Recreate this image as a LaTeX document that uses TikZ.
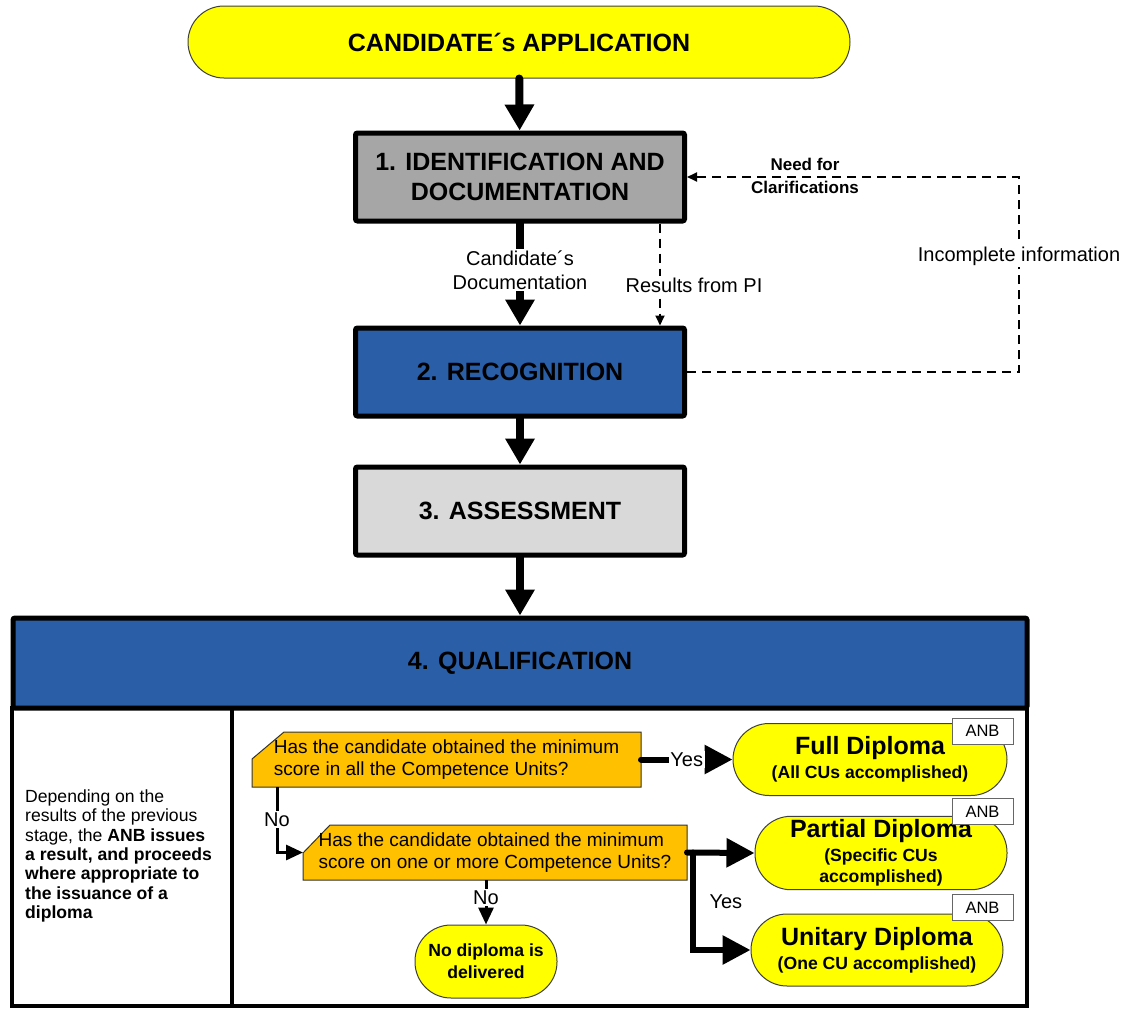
\documentclass[tikz,border=0pt]{standalone}
\usepackage{fontspec}
\setmainfont{Liberation Sans}
\usetikzlibrary{arrows.meta,backgrounds}
\definecolor{stageblue}{HTML}{2A5EA6}
\definecolor{idgray}{HTML}{A6A6A6}
\definecolor{assessgray}{HTML}{D9D9D9}
\definecolor{qorange}{HTML}{FFC000}
\definecolor{pillyellow}{HTML}{FFFF00}

\begin{document}
\begin{tikzpicture}[x=1pt,y=-1pt,
  stage/.style={draw=black, line width=5pt, rounded corners=2pt, minimum width=329pt, minimum height=88pt, align=center, font=\fontsize{25}{30}\selectfont\bfseries},
  pill/.style={draw=black!75, line width=1pt, fill=pillyellow, rounded corners=36pt, minimum height=72pt, align=center},
  question/.style={outer sep=0pt, minimum height=55pt, align=left, font=\fontsize{19}{22}\selectfont},
  qshape/.style={draw=black!80, line width=1pt, fill=qorange},
  anb/.style={draw=black!60, line width=1pt, fill=white, minimum width=61pt, minimum height=26pt, inner sep=0pt, font=\fontsize{16.5}{19}\selectfont},
  lbl/.style={align=center, inner sep=1.5pt, font=\fontsize{20}{24}\selectfont},
  flow/.style={line width=8pt, line cap=round, -{Triangle[width=28pt,length=26pt]}},
  dashflow/.style={line width=1.8pt, dash pattern=on 9pt off 6pt, -{Triangle[width=9pt,length=10pt]}},
  yesflow/.style={line width=6pt, line cap=round, -{Triangle[width=28pt,length=28pt]}},
  noflow/.style={line width=3pt, -{Triangle[width=15pt,length=17pt]}},
  frame/.style={line width=4pt}]
\useasboundingbox (0,0) rectangle (1125,1009);

\node[pill, minimum width=662pt, font=\fontsize{25}{30}\selectfont\bfseries] (app) at (519,42) {CANDIDATE´s APPLICATION};
\node[stage, fill=idgray] (ident) at (520,177) {1. IDENTIFICATION AND\\DOCUMENTATION};
\node[stage, fill=stageblue] (recog) at (520,372) {2. RECOGNITION};
\node[stage, fill=assessgray] (assess) at (520,511) {3. ASSESSMENT};

\draw[frame] (12,708) rectangle (1027,1006);
\draw[frame] (232,708) -- (232,1006);
\node[stage, fill=stageblue, minimum width=1014pt, minimum height=90pt] (qual) at (520,663) {4. QUALIFICATION};

\draw[flow] (app) -- (ident);
\draw[flow] (ident) -- node[lbl, fill=white, pos=0.46] {Candidate´s\\Documentation} (recog);
\draw[flow] (recog) -- (assess);
\draw[flow] (assess) -- (qual);

\draw[dashflow] ([xshift=-27pt]ident.south east) -- ([xshift=-27pt]recog.north east);
\node[lbl, fill=white] (pi) at (694,285) {Results from PI};
\coordinate (back) at (1019,270);
\draw[dashflow] (recog.east) -- (recog.east -| back) |- (ident.east);
\node[lbl, fill=white] (incomplete) at (1019,256) {Incomplete information};
\node[align=center, font=\fontsize{17}{23}\selectfont\bfseries] (clarify) at (805,176) {Need for\\Clarifications};

\node[anchor=west, align=left, inner sep=0pt, font=\fontsize{17.6}{19.4}\selectfont] (explain) at (25,856)
  {Depending on the\\results of the previous\\stage, the \textbf{ANB issues}\\\textbf{a result, and proceeds}\\\textbf{where appropriate to}\\\textbf{the issuance of a}\\\textbf{diploma}};

\node[question, minimum width=389pt] (q1) at (446.5,759.5) {Has the candidate obtained the minimum\\score in all the Competence Units?};
\node[question, minimum width=384pt] (q2) at (495,852.5) {Has the candidate obtained the minimum\\score on one or more Competence Units?};
\begin{scope}[on background layer]
\draw[qshape] ([yshift=-27pt]q1.north west) -- ([xshift=32pt]q1.north west) -- (q1.north east) -- (q1.south east) -- (q1.south west) -- cycle;
\draw[qshape] ([yshift=-28pt]q2.north west) -- ([xshift=27pt]q2.north west) -- (q2.north east) -- (q2.south east) -- (q2.south west) -- cycle;
\end{scope}

\node[pill, minimum width=274pt, font=\fontsize{17.6}{24}\selectfont\bfseries] (full) at (870,759.5) {{\fontsize{25}{24}\selectfont Full Diploma}\\(All CUs accomplished)};
\node[pill, minimum width=252pt, font=\fontsize{17.6}{21}\selectfont\bfseries] (partial) at (881,853) {{\fontsize{25}{24}\selectfont Partial Diploma}\\[3pt](Specific CUs\\accomplished)};
\node[pill, minimum width=252pt, font=\fontsize{17.6}{24}\selectfont\bfseries] (unitary) at (877,950) {{\fontsize{25}{24}\selectfont Unitary Diploma}\\(One CU accomplished)};
\node[pill, minimum width=142pt, minimum height=73pt, font=\fontsize{17.6}{22}\selectfont\bfseries] (nodip) at (486,961.5) {No diploma is\\delivered};

\node[anb] (anbfull) at (982.5,731) {ANB};
\node[anb] (anbpartial) at (982.5,811.5) {ANB};
\node[anb] (anbunitary) at (982.5,907.5) {ANB};

\draw[yesflow] (q1.east) -- node[lbl, fill=white] {Yes} (full.west);
\draw[noflow] ([xshift=25pt]q1.south west) |- node[lbl, fill=white, pos=0.25] {No} (q2.west);
\draw[noflow] (nodip.north |- q2.south) -- node[lbl, fill=white, pos=0.4] {No} (nodip.north);
\draw[yesflow] (q2.east) -- (partial.west);
\draw[yesflow] ([xshift=6pt]q2.east) |- node[lbl, pos=0.25, right=12pt] {Yes} (unitary.west);
\end{tikzpicture}
\end{document}
